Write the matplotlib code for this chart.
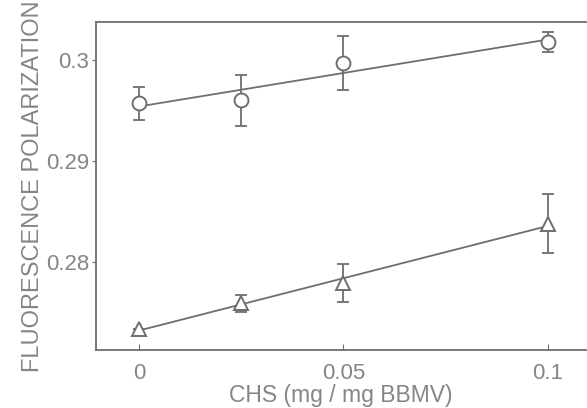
import matplotlib.pyplot as plt
import numpy as np

plt.rcParams['font.family'] = ['Liberation Sans', 'DejaVu Sans']

chs = [0, 0.025, 0.05, 0.1]

circ_y = [0.2957, 0.2960, 0.2997, 0.3018]
circ_err = [0.0016, 0.0025, 0.0027, 0.0010]

tri_y = [0.2734, 0.2759, 0.2779, 0.2838]
tri_err = [0.0, 0.0008, 0.0019, 0.0029]

xticks = [0, 0.05, 0.1]
xtick_labels = ['0', '0.05', '0.1']
yticks = [0.28, 0.29, 0.30]
ytick_labels = ['0.28', '0.29', '0.3']

gray = '#6e6e6e'
txt = '#858585'

fig = plt.figure(figsize=(5.87, 4.08), dpi=100)
ax = fig.add_axes([0.1635, 0.142, 0.8345, 0.804])

xs = np.array([-0.0, 0.1])
for ys, err, mk in [(circ_y, circ_err, 'o'), (tri_y, tri_err, '^')]:
    # regression line through the points
    k, b = np.polyfit(chs, ys, 1)
    ax.plot(xs, k * xs + b, color=gray, lw=1.3, zorder=1)
    ax.errorbar(chs, ys, yerr=err, fmt='none', ecolor=gray, elinewidth=1.3,
                capsize=4, capthick=1.3, zorder=2)
    ax.plot(chs, ys, mk, ms=10 if mk == 'o' else 10.5, mfc='white',
            mec=gray, mew=1.4, zorder=3)

ax.set_xlim(-0.0105, 0.1093)
ax.set_ylim(0.27129, 0.30376)
ax.set_xticks(xticks)
ax.set_xticklabels(xtick_labels)
ax.set_yticks(yticks)
ax.set_yticklabels(ytick_labels)

for s in ax.spines.values():
    s.set_color(gray)
    s.set_linewidth(1.3)
ax.spines['right'].set_visible(False)

ax.tick_params(axis='x', direction='in', length=4, color=gray, labelsize=16,
               labelcolor=txt, pad=9)
ax.tick_params(axis='y', direction='out', length=3, color=gray, labelsize=16,
               labelcolor=txt, pad=2)

ax.set_xlabel('CHS (mg / mg BBMV)', fontsize=16.5, color=txt, labelpad=0)
ax.set_ylabel('FLUORESCENCE POLARIZATION', fontsize=17, color=txt, labelpad=1)

fig.savefig('out.png', dpi=100)
